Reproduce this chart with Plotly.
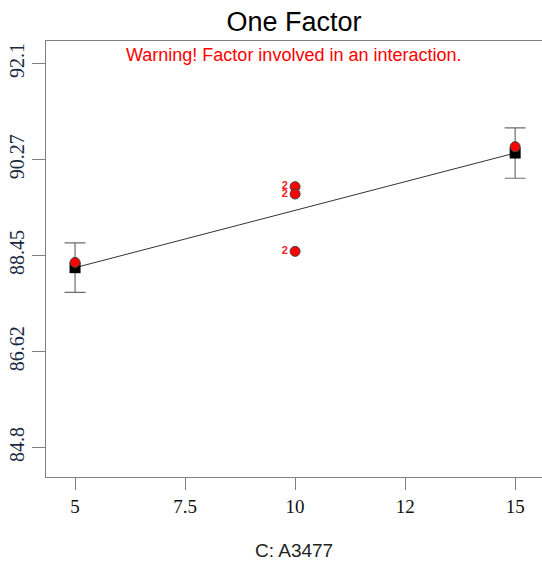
import plotly.graph_objects as go

# Data
factor_levels = [5, 15]
predicted = [88.22, 90.40]
ci_half = [0.47, 0.48]
actual_x = [5, 10, 10, 10, 15]
actual_y = [88.32, 89.76, 89.62, 88.53, 90.52]
actual_labels = ["", "2", "2", "2", ""]
x_tickvals = [5, 7.5, 10, 12.5, 15]
x_ticktext = ["5", "7.5", "10", "12", "15"]
y_tickvals = [84.8, 86.62, 88.45, 90.27, 92.1]
y_ticktext = ["84.8", "86.62", "88.45", "90.27", "92.1"]

fig = go.Figure()

# fitted line
fig.add_trace(go.Scatter(
    x=factor_levels, y=predicted, mode="lines",
    line=dict(color="#333333", width=1), hoverinfo="skip", showlegend=False))

# predicted points with CI bars
fig.add_trace(go.Scatter(
    x=factor_levels, y=predicted, mode="markers",
    marker=dict(symbol="square", size=11, color="black"),
    error_y=dict(type="data", array=ci_half, color="#6e6e6e", thickness=1.2, width=10.5),
    showlegend=False))

# actual points
fig.add_trace(go.Scatter(
    x=actual_x, y=actual_y, mode="markers+text",
    text=actual_labels, textposition="middle left",
    textfont=dict(family="Liberation Sans", size=11, color="#ee2222", weight="bold"),
    marker=dict(symbol="circle", size=10, color="red", line=dict(color="#444444", width=1)),
    showlegend=False))

fig.update_layout(
    width=542, height=562,
    margin=dict(l=46, r=0, t=41, b=85),
    paper_bgcolor="white", plot_bgcolor="white",
    title=dict(text="One Factor", x=0.5, xref="paper", y=1 - 22 / 562, yanchor="middle",
               font=dict(family="Liberation Sans", size=27, color="black")),
    annotations=[
        dict(text="Warning! Factor involved in an interaction.",
             x=0.5, xref="paper", y=(477 - 55) / 436, yref="paper",
             showarrow=False, yanchor="middle",
             font=dict(family="Liberation Sans", size=18, color="red")),
        dict(text="C: A3477", x=(294 - 46) / 496, xref="paper",
             y=-(550 - 477) / 436, yref="paper", showarrow=False, yanchor="middle",
             font=dict(family="Liberation Sans", size=19, color="#222222")),
    ],
    xaxis=dict(range=[4.34, 15.61], tickvals=x_tickvals, ticktext=x_ticktext,
               automargin=False,
               showgrid=False, zeroline=False, showline=True, linecolor="#808080",
               linewidth=1, mirror=True, ticks="outside", ticklen=12, tickcolor="#808080",
               tickfont=dict(family="Liberation Serif", size=19, color="#111111")),
    yaxis=dict(range=[84.24, 92.53], tickvals=y_tickvals, ticktext=y_ticktext,
               automargin=False,
               showgrid=False, zeroline=False, showline=True, linecolor="#808080",
               linewidth=1, ticks="outside", ticklen=13, tickcolor="#808080", tickangle=-90,
               tickfont=dict(family="Liberation Serif", size=20, color="#1a2a44")),
)

fig.write_html("out.html",
               config={"displayModeBar": False},
               post_script="document.body.style.margin='0';document.body.style.overflow='hidden';")
